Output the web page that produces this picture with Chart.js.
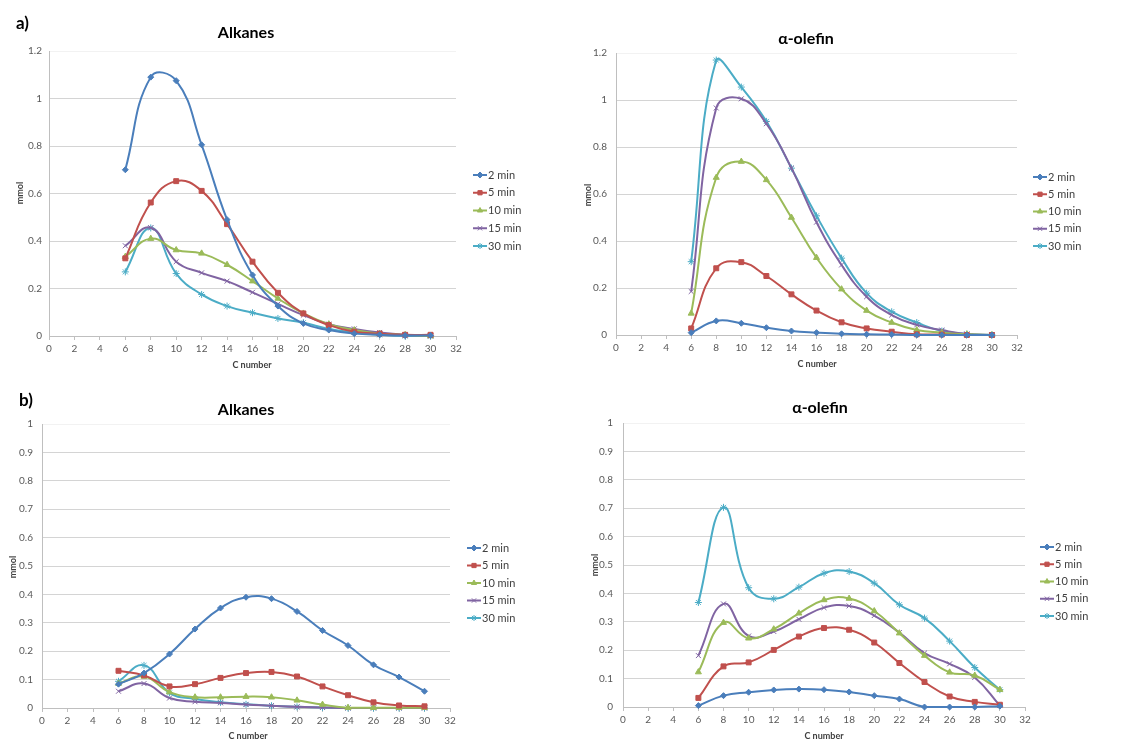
<!DOCTYPE html>
<html>
<head>
<meta charset="utf-8">
<script src="https://cdn.jsdelivr.net/npm/chart.js"></script>
<style>
  body { margin: 0; background: #fff; }
  #wrap { position: relative; width: 1129px; height: 741px; }
  canvas { position: absolute; }
</style>
</head>
<body>
<div id="wrap">
  <canvas id="c1" width="560" height="380" style="left:0;top:0"></canvas>
  <canvas id="c2" width="569" height="380" style="left:560px;top:0"></canvas>
  <canvas id="c3" width="560" height="361" style="left:0;top:380px"></canvas>
  <canvas id="c4" width="569" height="361" style="left:560px;top:380px"></canvas>
</div>
<script>
// Data
const cNumber = [6, 8, 10, 12, 14, 16, 18, 20, 22, 24, 26, 28, 30];
const seriesNames = ['2 min', '5 min', '10 min', '15 min', '30 min'];

// a) Alkanes
const aAlk2 = [0.70, 1.09, 1.075, 0.805, 0.49, 0.257, 0.126, 0.053, 0.025, 0.01, 0.005, 0.002, 0.002];
const aAlk5 = [0.327, 0.562, 0.652, 0.611, 0.471, 0.313, 0.182, 0.095, 0.046, 0.018, 0.01, 0.005, 0.005];
const aAlk10 = [0.334, 0.41, 0.362, 0.348, 0.30, 0.231, 0.158, 0.095, 0.05, 0.025, 0.01, 0.005, 0.0];
const aAlk15 = [0.38, 0.456, 0.313, 0.266, 0.231, 0.184, 0.135, 0.088, 0.05, 0.03, 0.015, 0.005, 0.0];
const aAlk30 = [0.27, 0.455, 0.263, 0.175, 0.126, 0.098, 0.074, 0.056, 0.03, 0.015, 0.005, 0.0, 0.0];

// a) alpha-olefin
const aOle2 = [0.01, 0.06, 0.05, 0.031, 0.017, 0.01, 0.005, 0.003, 0.002, 0, 0, 0, 0];
const aOle5 = [0.028, 0.284, 0.31, 0.251, 0.173, 0.104, 0.054, 0.028, 0.014, 0.003, 0.002, 0, 0];
const aOle10 = [0.092, 0.67, 0.738, 0.66, 0.50, 0.329, 0.195, 0.104, 0.053, 0.021, 0.01, 0.003, 0];
const aOle15 = [0.185, 0.966, 1.005, 0.899, 0.71, 0.48, 0.298, 0.163, 0.085, 0.043, 0.021, 0.004, 0];
const aOle30 = [0.312, 1.17, 1.055, 0.909, 0.71, 0.507, 0.327, 0.178, 0.099, 0.053, 0.017, 0.004, 0];

// b) Alkanes
const bAlk2 = [0.084, 0.123, 0.19, 0.278, 0.352, 0.39, 0.385, 0.34, 0.273, 0.22, 0.152, 0.109, 0.059];
const bAlk5 = [0.131, 0.115, 0.076, 0.084, 0.106, 0.123, 0.127, 0.111, 0.076, 0.045, 0.02, 0.009, 0.006];
const bAlk10 = [0.086, 0.111, 0.056, 0.038, 0.038, 0.04, 0.038, 0.027, 0.012, 0.001, 0.001, 0.001, 0.001];
const bAlk15 = [0.059, 0.086, 0.035, 0.022, 0.018, 0.012, 0.008, 0.004, 0.002, 0, 0, 0, 0];
const bAlk30 = [0.094, 0.15, 0.053, 0.032, 0.02, 0.013, 0.008, 0.004, 0.002, 0, 0, 0, 0];

// b) alpha-olefin
const bOle2 = [0.005, 0.04, 0.052, 0.06, 0.063, 0.061, 0.053, 0.04, 0.028, 0, 0, 0, 0.003];
const bOle5 = [0.032, 0.143, 0.157, 0.201, 0.248, 0.278, 0.272, 0.227, 0.155, 0.088, 0.037, 0.018, 0.008];
const bOle10 = [0.123, 0.297, 0.242, 0.274, 0.33, 0.377, 0.382, 0.338, 0.26, 0.181, 0.122, 0.111, 0.061];
const bOle15 = [0.181, 0.363, 0.25, 0.266, 0.309, 0.35, 0.356, 0.322, 0.262, 0.19, 0.152, 0.104, 0.005];
const bOle30 = [0.368, 0.703, 0.42, 0.381, 0.422, 0.471, 0.477, 0.436, 0.36, 0.313, 0.232, 0.139, 0.061];

const colors = ['#4A7EBB', '#C0504D', '#9BBB59', '#8064A2', '#4BACC6'];
const markers = ['rectRot', 'rect', 'triangle', 'crossRot', 'star'];
const markerSize = [3, 3.5, 3.5, 3.5, 3.5];

// Draws titles, axis names and the Excel style legend
const decor = {
  id: 'decor',
  afterDraw(chart, args, o) {
    const ctx = chart.ctx;
    ctx.save();
    ctx.textBaseline = 'middle';
    ctx.fillStyle = '#000';
    ctx.textAlign = 'center';
    ctx.font = 'bold 16px Lato';
    ctx.fillText(o.title, o.titleX, o.titleY);
    if (o.letter) {
      ctx.textAlign = 'left';
      ctx.font = 'bold 17px Lato';
      ctx.fillText(o.letter, o.letterX, o.letterY);
    }
    ctx.fillStyle = '#404040';
    ctx.textAlign = 'center';
    ctx.font = 'bold 9px Lato';
    ctx.fillText('C number', o.xNameX, o.xNameY);
    ctx.save();
    ctx.translate(o.yNameX, o.yNameY);
    ctx.rotate(-Math.PI / 2);
    ctx.fillText('mmol', 0, 0);
    ctx.restore();

    // legend
    ctx.font = '11px Lato';
    ctx.textAlign = 'left';
    chart.data.datasets.forEach((ds, i) => {
      const y = o.legY + i * o.legGap;
      ctx.strokeStyle = ds.borderColor;
      ctx.lineWidth = 2;
      ctx.beginPath();
      ctx.moveTo(o.legX, y);
      ctx.lineTo(o.legX + 14, y);
      ctx.stroke();
      ctx.fillStyle = ds.borderColor;
      ctx.lineWidth = 1;
      Chart.helpers.drawPoint(ctx, { pointStyle: ds.pointStyle, radius: 3, rotation: 0, borderWidth: 1 }, o.legX + 7, y);
      ctx.fillStyle = '#404040';
      ctx.fillText(ds.label, o.legX + 15, y);
    });
    ctx.restore();
  }
};

function makeChart(id, series, yMax, yStep, box, deco) {
  const datasets = series.map((vals, i) => ({
    label: seriesNames[i],
    data: cNumber.map((c, k) => ({ x: c, y: vals[k] })),
    borderColor: colors[i],
    backgroundColor: colors[i],
    borderWidth: 2,
    pointStyle: markers[i],
    pointRadius: markerSize[i],
    pointBorderWidth: 1,
    tension: 0.45,
    clip: 6
  }));

  return new Chart(document.getElementById(id), {
    type: 'line',
    data: { datasets },
    options: {
      responsive: false,
      animation: false,
      layout: { padding: { left: 0, top: box.top, right: box.right, bottom: 0 } },
      plugins: { legend: { display: false }, title: { display: false }, tooltip: { enabled: false }, decor: deco },
      scales: {
        x: {
          type: 'linear',
          min: 0,
          max: 32,
          afterFit: s => { s.height = box.xh; },
          ticks: { stepSize: 2, color: '#595959', font: { size: 10, family: 'Lato' }, padding: 3, maxRotation: 0, autoSkip: false },
          grid: { drawOnChartArea: false, drawTicks: true, tickLength: 4, color: '#bfbfbf' },
          border: { color: '#bfbfbf' }
        },
        y: {
          min: 0,
          max: yMax,
          afterFit: s => { s.width = box.left; },
          ticks: {
            stepSize: yStep,
            color: '#595959',
            font: { size: 10, family: 'Lato' },
            padding: box.tickPad,
            callback: v => String(+v.toFixed(2))
          },
          grid: {
            drawTicks: false,
            color: c => (Math.abs(c.tick.value - yMax) < 1e-9 ? '#f2f2f2' : '#d4d4d4'),
            lineWidth: 1
          },
          border: { color: '#bfbfbf' }
        }
      }
    },
    plugins: [decor]
  });
}

makeChart('c1', [aAlk2, aAlk5, aAlk10, aAlk15, aAlk30], 1.2, 0.2,
  { left: 49, top: 51, right: 104, xh: 44, tickPad: 7 },
  { title: 'Alkanes', titleX: 246, titleY: 33, letter: 'a)', letterX: 16, letterY: 24,
    xNameX: 252, xNameY: 365, yNameX: 20, yNameY: 193, legX: 473, legY: 175, legGap: 17.75 });

makeChart('c2', [aOle2, aOle5, aOle10, aOle15, aOle30], 1.2, 0.2,
  { left: 56, top: 53, right: 112, xh: 45, tickPad: 9 },
  { title: 'α-olefin', titleX: 246, titleY: 39,
    xNameX: 257, xNameY: 364, yNameX: 28, yNameY: 195, legX: 473, legY: 177, legGap: 17.25 });

makeChart('c3', [bAlk2, bAlk5, bAlk10, bAlk15, bAlk30], 1, 0.1,
  { left: 42, top: 44, right: 110, xh: 33, tickPad: 9 },
  { title: 'Alkanes', titleX: 246, titleY: 30, letter: 'b)', letterX: 19, letterY: 21,
    xNameX: 248, xNameY: 356, yNameX: 13, yNameY: 187, legX: 467, legY: 168, legGap: 17.5 });

makeChart('c4', [bOle2, bOle5, bOle10, bOle15, bOle30], 1, 0.1,
  { left: 63, top: 43, right: 104, xh: 34, tickPad: 10 },
  { title: 'α-olefin', titleX: 260, titleY: 28,
    xNameX: 264, xNameY: 356, yNameX: 35, yNameY: 185, legX: 480, legY: 167, legGap: 17.25 });
</script>
</body>
</html>
